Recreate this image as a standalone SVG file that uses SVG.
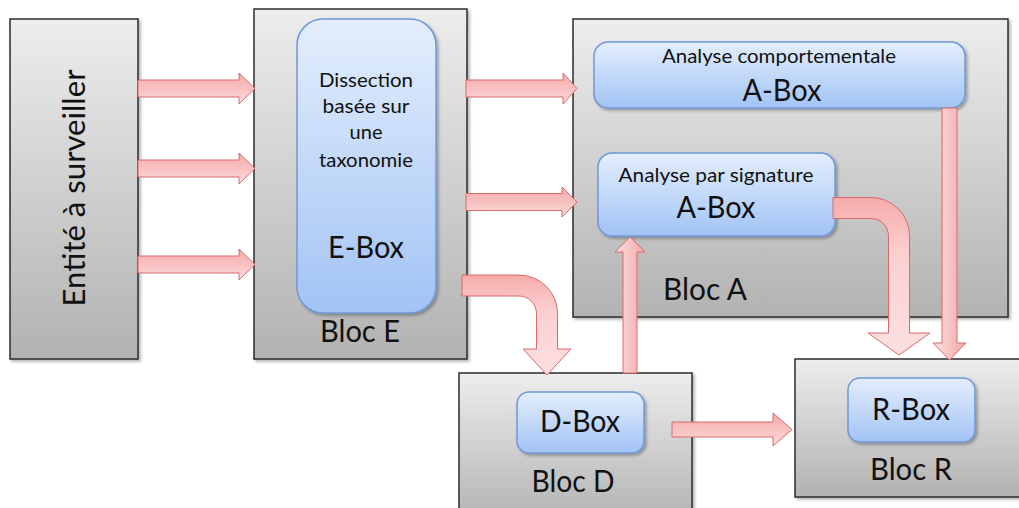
<svg xmlns="http://www.w3.org/2000/svg" width="1019" height="508" viewBox="0 0 1019 508">
<defs>
<linearGradient id="gBloc" x1="0" y1="0" x2="0" y2="1"><stop offset="0" stop-color="#ededed"/><stop offset="1" stop-color="#b2b2b2"/></linearGradient>
<linearGradient id="gBlue" x1="0" y1="0" x2="0" y2="1"><stop offset="0" stop-color="#e4eefc"/><stop offset="1" stop-color="#a2c3f5"/></linearGradient>
<linearGradient id="gH" x1="0" y1="0" x2="0" y2="1"><stop offset="0" stop-color="#f4a9a9"/><stop offset="1" stop-color="#fdd9d9"/></linearGradient>
<linearGradient id="gV" x1="0" y1="0" x2="1" y2="0"><stop offset="0" stop-color="#fde0e0"/><stop offset="1" stop-color="#f4a6a6"/></linearGradient>
<linearGradient id="gB" x1="0" y1="0" x2="0" y2="1"><stop offset="0" stop-color="#f6abab"/><stop offset="0.35" stop-color="#fccfcf"/><stop offset="1" stop-color="#fde0e0"/></linearGradient>
<filter id="sh" x="-10%" y="-10%" width="130%" height="130%"><feDropShadow dx="2" dy="2" stdDeviation="1.5" flood-color="#000" flood-opacity="0.3"/></filter>
</defs>
<style>
.bloc{fill:url(#gBloc);stroke:#2b2b2b;stroke-width:1.5;filter:url(#sh)}
.box{fill:url(#gBlue);stroke:#6f98d6;stroke-width:1.5;filter:url(#sh)}
.t{font-family:Lato,"Open Sans","Liberation Sans",sans-serif;fill:#111;text-anchor:middle}
.big{font-size:30px}
.small{font-size:20px}
.ah{stroke:#d96a6a;stroke-width:1}
.h{fill:url(#gH)}
.v{fill:url(#gV)}
.b{fill:url(#gB)}
</style>
<g id="entite">
<rect class="bloc" x="10" y="19" width="128" height="340"/>
<text class="t big" transform="translate(85,188) rotate(-90)" textLength="237" lengthAdjust="spacingAndGlyphs">Entité à surveiller</text>
</g>
<g id="blocE">
<rect class="bloc" x="254" y="9" width="213" height="350"/>
<rect class="box" x="297" y="19" width="139" height="294" rx="26"/>
<text class="t small" x="366" y="87" textLength="94" lengthAdjust="spacingAndGlyphs">Dissection</text>
<text class="t small" x="366" y="113" textLength="87" lengthAdjust="spacingAndGlyphs">basée sur</text>
<text class="t small" x="366" y="139" textLength="33" lengthAdjust="spacingAndGlyphs">une</text>
<text class="t small" x="366" y="167" textLength="94" lengthAdjust="spacingAndGlyphs">taxonomie</text>
<text class="t big" x="366" y="258" textLength="76" lengthAdjust="spacingAndGlyphs">E-Box</text>
<text class="t big" x="360" y="342" textLength="80" lengthAdjust="spacingAndGlyphs">Bloc E</text>
</g>
<g id="blocA">
<rect class="bloc" x="573" y="19" width="435" height="298"/>
<text class="t big" x="705" y="300" textLength="84" lengthAdjust="spacingAndGlyphs">Bloc A</text>
</g>
<g id="aboxComportementale">
<rect class="box" x="594" y="42" width="371" height="66" rx="14"/>
<text class="t small" x="779" y="63" textLength="234" lengthAdjust="spacingAndGlyphs">Analyse comportementale</text>
<text class="t big" x="782" y="101" textLength="79" lengthAdjust="spacingAndGlyphs">A-Box</text>
</g>
<g id="aboxSignature">
<rect class="box" x="598" y="153" width="237" height="83" rx="14"/>
<text class="t small" x="716" y="182" textLength="195" lengthAdjust="spacingAndGlyphs">Analyse par signature</text>
<text class="t big" x="716" y="218" textLength="79" lengthAdjust="spacingAndGlyphs">A-Box</text>
</g>
<g id="blocD">
<rect class="bloc" x="459" y="373" width="233" height="150"/>
<rect class="box" x="517" y="392" width="127" height="61" rx="12"/>
<text class="t big" x="580" y="432" textLength="80" lengthAdjust="spacingAndGlyphs">D-Box</text>
<text class="t big" x="573" y="492" textLength="83" lengthAdjust="spacingAndGlyphs">Bloc D</text>
</g>
<g id="blocR">
<rect class="bloc" x="795" y="359" width="240" height="138"/>
<rect class="box" x="848" y="378" width="127" height="64" rx="12"/>
<text class="t big" x="911" y="420" textLength="78" lengthAdjust="spacingAndGlyphs">R-Box</text>
<text class="t big" x="911" y="480" textLength="82" lengthAdjust="spacingAndGlyphs">Bloc R</text>
</g>
<g id="connectors">
<polygon class="ah h" points="138,80 239,80 239,73 255,88.5 239,104 239,97 138,97"/>
<polygon class="ah h" points="138,160 239,160 239,153 255,168.5 239,184 239,177 138,177"/>
<polygon class="ah h" points="138,256 239,256 239,249 255,264.5 239,280 239,273 138,273"/>
<polygon class="ah h" points="466,80 563,80 563,73 577,88.5 563,104 563,97 466,97"/>
<polygon class="ah h" points="466,193.5 562,193.5 562,187 577,202 562,217 562,210.5 466,210.5"/>
<polygon class="ah h" points="672,422 773,422 773,413 792,429.5 773,446 773,437 672,437"/>
<polygon class="ah v" points="623,373 623,252 615,252 630,237 645,252 637,252 637,373"/>
<polygon class="ah v" points="942,108 942,343 933,343 949.5,360 966,343 957,343 957,108"/>
<path class="ah b" d="M462,275 H519 A38.5,38.5 0 0 1 557.5,313.5 V349 H571 L547,375 L523,349 H536.5 V313.5 A17.5,17.5 0 0 0 519,296 H462 Z"/>
<path class="ah b" d="M833,197.5 H871 A38.5,38.5 0 0 1 909.5,236 V333 H930 L899,355 L868,333 H888.5 V236 A17.5,17.5 0 0 0 871,218.5 H833 Z"/>
</g>
</svg>
